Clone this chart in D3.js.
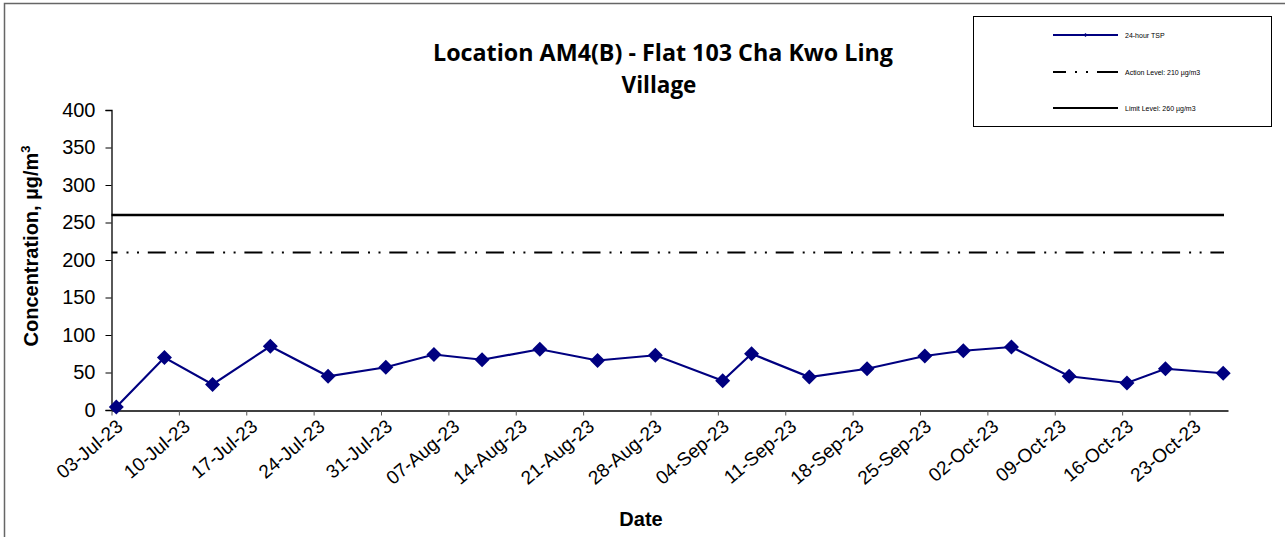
<!DOCTYPE html>
<html><head><meta charset="utf-8">
<script src="https://cdn.jsdelivr.net/npm/d3@7"></script>
<style>
html,body{margin:0;padding:0;background:#fff;}
svg{display:block;font-family:"Liberation Sans",Arial,sans-serif;}
</style></head>
<body>
<svg id="c" width="1285" height="537"></svg>
<script>
// ---- data ----
const sampleDates = ["2023-07-03","2023-07-08","2023-07-13","2023-07-19","2023-07-25","2023-07-31",
  "2023-08-05","2023-08-10","2023-08-16","2023-08-22","2023-08-28","2023-09-04","2023-09-07",
  "2023-09-13","2023-09-19","2023-09-25","2023-09-29","2023-10-04","2023-10-10","2023-10-16",
  "2023-10-20","2023-10-26"];
const tspValues = [4,70,34,85,45,57,74,67,81,66,73,39,75,44,55,72,79,84,45,36,55,49];
const actionLevel = 210;
const limitLevel = 260;
const yTicks = [0,50,100,150,200,250,300,350,400];
const xTickDates = ["2023-07-03","2023-07-10","2023-07-17","2023-07-24","2023-07-31","2023-08-07",
  "2023-08-14","2023-08-21","2023-08-28","2023-09-04","2023-09-11","2023-09-18","2023-09-25",
  "2023-10-02","2023-10-09","2023-10-16","2023-10-23"];
const xDomain = ["2023-07-03","2023-10-27"];
const titleLines = ["Location AM4(B) - Flat 103 Cha Kwo Ling","Village"];
const legendLabels = ["24-hour TSP","Action Level: 210 \u00b5g/m3","Limit Level: 260 \u00b5g/m3"];

const parse = d3.utcParse("%Y-%m-%d");
const fmt = d3.utcFormat("%d-%b-%y");
const svg = d3.select("#c");

// outer border
svg.append("rect").attr("x",4.5).attr("y",3.5).attr("width",1290).attr("height",540)
  .attr("fill","none").attr("stroke","#666").attr("stroke-width",1.5);

const x = d3.scaleUtc().domain(xDomain.map(parse)).range([111.5,1228]);
const y = d3.scaleLinear().domain([0,400]).range([410,110]);
const ptDate = d => new Date(parse(d).getTime() + 12*3600*1000);

// title
const t = svg.append("text").attr("text-anchor","middle")
  .attr("font-family","'Open Sans',sans-serif").attr("font-weight","bold").attr("font-size",22.5).attr("fill","#000");
t.append("tspan").attr("x",663).attr("y",61).attr("textLength",460).attr("lengthAdjust","spacingAndGlyphs").text(titleLines[0]);
t.append("tspan").attr("x",659).attr("y",93).text(titleLines[1]);

const tickFont = 20;
// y axis
const yAxis = svg.append("g").attr("transform","translate(111.5,0)")
  .call(d3.axisLeft(y).tickValues(yTicks).tickSize(6).tickPadding(10));
yAxis.select(".domain").attr("stroke","#000").attr("stroke-width",1.3);
yAxis.selectAll(".tick line").attr("stroke","#000");
yAxis.selectAll(".tick text").attr("font-size",tickFont).attr("fill","#000")
  .attr("font-family","'Liberation Sans',Arial,sans-serif");

// x axis
const xAxis = svg.append("g").attr("transform","translate(0,410.5)")
  .call(d3.axisBottom(x).tickValues(xTickDates.map(parse)).tickSize(5).tickSizeOuter(0).tickFormat(fmt));
xAxis.select(".domain").attr("stroke","#000").attr("stroke-width",1.3);
xAxis.selectAll(".tick line").attr("stroke","#555");
xAxis.selectAll(".tick text").attr("font-size",19).attr("fill","#000")
  .attr("font-family","'Liberation Sans',Arial,sans-serif")
  .attr("text-anchor","end").attr("y",0).attr("dy",0)
  .attr("transform","translate(12,18) rotate(-40)");

// level lines
svg.append("line").attr("x1",x.range()[0]).attr("x2",1224).attr("y1",y(limitLevel)).attr("y2",y(limitLevel))
  .attr("stroke","#000").attr("stroke-width",2.5);
svg.append("line").attr("x1",x.range()[0]).attr("x2",1224).attr("y1",y(actionLevel)).attr("y2",y(actionLevel))
  .attr("stroke","#000").attr("stroke-width",2.2).attr("stroke-dasharray","6 9 2 8.5 2 8.8 12 0");

// series
const data = sampleDates.map((d,i)=>({d:ptDate(d),v:tspValues[i]}));
svg.append("path").datum(data)
  .attr("d",d3.line().x(p=>x(p.d)).y(p=>y(p.v)))
  .attr("fill","none").attr("stroke","#000080").attr("stroke-width",2.2);
svg.selectAll(".pt").data(data).enter().append("path")
  .attr("transform",p=>`translate(${x(p.d)},${y(p.v)})`)
  .attr("d","M0,-7.5L7.5,0L0,7.5L-7.5,0Z").attr("fill","#000080");

// axis titles
svg.append("text").attr("transform","translate(38,246) rotate(-90)").attr("text-anchor","middle")
  .attr("font-weight","bold").attr("font-size",20).attr("fill","#000")
  .html('Concentration, \u00b5g/m<tspan dy="-8" font-size="13">3</tspan>');
svg.append("text").attr("x",641).attr("y",526).attr("text-anchor","middle")
  .attr("font-weight","bold").attr("font-size",20).attr("fill","#000").text("Date");

// legend
const lg = svg.append("g");
lg.append("rect").attr("x",973.5).attr("y",16.5).attr("width",298).attr("height",110)
  .attr("fill","#fff").attr("stroke","#000").attr("stroke-width",1);
const ly = [35,72,108];
lg.append("line").attr("x1",1053).attr("x2",1118).attr("y1",ly[0]).attr("y2",ly[0]).attr("stroke","#000080").attr("stroke-width",2);
lg.append("path").attr("transform",`translate(1085.5,${ly[0]})`).attr("d","M0,-2L2,0L0,2L-2,0Z").attr("fill","#000080");
lg.append("line").attr("x1",1053).attr("x2",1118).attr("y1",ly[1]).attr("y2",ly[1]).attr("stroke","#000").attr("stroke-width",2)
  .attr("stroke-dasharray","13 9 2 9 2 9 13 0");
lg.append("line").attr("x1",1053).attr("x2",1118).attr("y1",ly[2]).attr("y2",ly[2]).attr("stroke","#000").attr("stroke-width",2.2);
legendLabels.forEach((l,i)=>{
  lg.append("text").attr("x",1125).attr("y",ly[i]+2.5).attr("font-size",7).attr("fill","#000").text(l);
});
</script>
</body></html>
